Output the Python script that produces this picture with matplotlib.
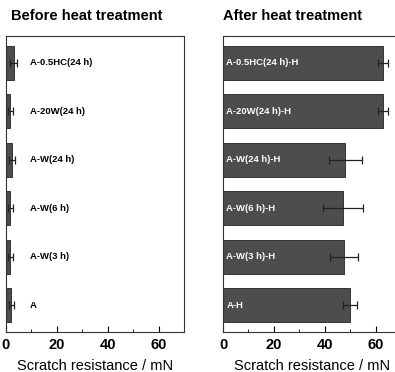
import matplotlib
matplotlib.use("Agg")
import matplotlib.pyplot as plt
from matplotlib.ticker import MultipleLocator

plt.rcParams['font.family'] = ['Liberation Sans', 'DejaVu Sans']

labels_before = ["A", "A-W(3 h)", "A-W(6 h)", "A-W(24 h)", "A-20W(24 h)", "A-0.5HC(24 h)"]
values_before = [2.1, 1.7, 1.7, 2.4, 1.7, 3.0]
errors_before = [0.9, 0.9, 0.9, 1.2, 0.9, 1.3]

labels_after = ["A-H", "A-W(3 h)-H", "A-W(6 h)-H", "A-W(24 h)-H", "A-20W(24 h)-H", "A-0.5HC(24 h)-H"]
values_after = [49.8, 47.5, 47.2, 48.1, 63.0, 63.0]
errors_after = [2.8, 5.5, 8.0, 6.5, 1.9, 1.9]

xticks = [0, 20, 40, 60]

fig = plt.figure(figsize=(3.95, 3.72), dpi=100)
ax1 = fig.add_axes([6/395, 1-332/372, 178/395, 296/372])
ax2 = fig.add_axes([223/395, 1-332/372, 178/395, 296/372])

bar_color = "#4d4d4d"

def draw(ax, labels, values, errors, label_x, label_color):
    y = list(range(len(labels)))
    ax.barh(y, values, height=0.7, color=bar_color, edgecolor="#222222", linewidth=0.6,
            xerr=errors, error_kw=dict(ecolor="#222222", elinewidth=0.9, capsize=3, capthick=0.9))
    for yi, lab in zip(y, labels):
        ax.text(label_x, yi, lab, va="center", ha="left", fontsize=6.8, fontweight="bold",
                color=label_color)
    ax.set_xlim(0, 70)
    ax.set_ylim(-0.55, 5.55)
    ax.set_yticks([])
    ax.set_xticks(xticks)
    ax.xaxis.set_minor_locator(MultipleLocator(10))
    ax.tick_params(axis="x", which="major", direction="in", length=4, width=0.8,
                   labelsize=10.5, pad=4)
    ax.tick_params(axis="x", which="minor", direction="in", length=2, width=0.6)
    for t in ax.get_xticklabels():
        t.set_fontweight("bold")
    for s in ax.spines.values():
        s.set_linewidth(0.8)
        s.set_color("#333333")
    ax.set_xlabel("Scratch resistance / mN", fontsize=10.5, labelpad=5)

draw(ax1, labels_before, values_before, errors_before, 9.4, "black")
draw(ax2, labels_after, values_after, errors_after, 1.3, "white")

fig.text(11/395, 1-15.5/372, "Before heat treatment", fontsize=10.5, fontweight="bold",
         ha="left", va="center")
fig.text(223/395, 1-15.5/372, "After heat treatment", fontsize=10.5, fontweight="bold",
         ha="left", va="center")

fig.savefig("out.png", dpi=100)
